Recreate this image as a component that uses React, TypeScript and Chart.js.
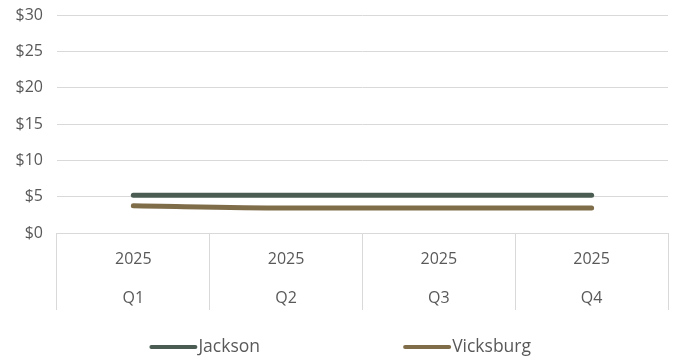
import React, { useEffect, useRef } from "react";
import { Chart, registerables } from "chart.js";

Chart.register(...registerables);

const years = ["2025", "2025", "2025", "2025"];
const quarters = ["Q1", "Q2", "Q3", "Q4"];
const jackson = [5.2, 5.2, 5.2, 5.2];
const vicksburg = [3.75, 3.45, 3.45, 3.45];
const seriesNames = ["Jackson", "Vicksburg"];
const seriesColors = ["#4b5d53", "#7f6c49"];
const yTicks = [0, 5, 10, 15, 20, 25, 30];

const FONT = "'Open Sans', 'Noto Sans', sans-serif";
const TEXT = "#595959";

const legendPlugin = {
  id: "customLegend",
  afterDraw(chart: any) {
    const ctx = chart.ctx;
    const starts = [0.222, 0.599];
    const y = chart.height - 9;
    ctx.save();
    ctx.font = `17.5px ${FONT}`;
    ctx.textBaseline = "middle";
    ctx.textAlign = "left";
    chart.data.datasets.forEach((ds: any, i: number) => {
      const x0 = chart.width * starts[i];
      ctx.strokeStyle = ds.borderColor;
      ctx.lineWidth = 4;
      ctx.lineCap = "round";
      ctx.beginPath();
      ctx.moveTo(x0 + 2, y);
      ctx.lineTo(x0 + 46, y);
      ctx.stroke();
      ctx.fillStyle = TEXT;
      ctx.fillText(ds.label, x0 + 49, y);
    });
    ctx.restore();
  },
};

export default function App() {
  const ref = useRef<HTMLCanvasElement>(null);
  useEffect(() => {
    const labels = years.map((y, i) => [y, quarters[i]]);
    const chart = new Chart(ref.current!, {
      type: "line",
      data: {
        labels,
        datasets: [
          {
            label: seriesNames[0],
            data: jackson,
            borderColor: seriesColors[0],
            backgroundColor: seriesColors[0],
            borderWidth: 5,
            pointRadius: 0,
            tension: 0.4,
            borderCapStyle: "round",
          },
          {
            label: seriesNames[1],
            data: vicksburg,
            borderColor: seriesColors[1],
            backgroundColor: seriesColors[1],
            borderWidth: 5,
            pointRadius: 0,
            cubicInterpolationMode: "monotone",
            borderCapStyle: "round",
          },
        ],
      },
      options: {
        animation: false,
        responsive: true,
        maintainAspectRatio: false,
        layout: { padding: { left: 1.5, right: 5, top: 0, bottom: 43 } },
        plugins: { legend: { display: false }, tooltip: { enabled: false } },
        scales: {
          x: {
            offset: true,
            afterFit: (s: any) => {
              s.height = 80;
            },
            grid: {
              offset: true,
              drawOnChartArea: false,
              drawTicks: true,
              tickLength: 77,
              color: "#d9d9d9",
              lineWidth: 1,
            },
            border: { display: true, color: "#d9d9d9" },
            ticks: {
              color: TEXT,
              font: { family: FONT, size: 16, lineHeight: 2.45 },
              padding: -70,
              maxRotation: 0,
              autoSkip: false,
            },
          },
          y: {
            min: 0,
            max: 30,
            afterBuildTicks: (s: any) => {
              s.ticks = yTicks.map((v) => ({ value: v }));
            },
            afterFit: (s: any) => {
              s.paddingTop = 15;
            },
            grid: { color: "#d9d9d9", drawTicks: false, lineWidth: 1 },
            border: { display: false },
            ticks: {
              color: TEXT,
              font: { family: FONT, size: 16 },
              padding: 14,
              callback: (v: any) => "$" + v,
            },
          },
        },
      },
      plugins: [legendPlugin],
    });
    return () => chart.destroy();
  }, []);
  return (
    <div style={{ position: "fixed", left: 0, top: 0, width: 673, height: 356, background: "#fff" }}>
      <canvas ref={ref} />
    </div>
  );
}
